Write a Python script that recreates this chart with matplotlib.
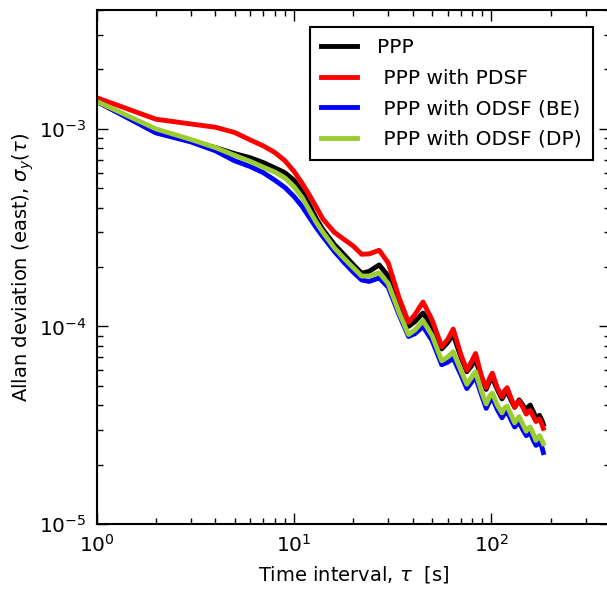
import matplotlib
matplotlib.use("Agg")
import matplotlib.pyplot as plt
from matplotlib.ticker import FuncFormatter, LogLocator
import numpy as np

plt.rcParams["font.family"] = "DejaVu Sans"
plt.rcParams["mathtext.fontset"] = "dejavusans"

# averaging times (s)
tau = [1, 2, 3, 4, 5, 6, 7, 8, 9, 10, 11, 12, 13, 14, 16, 18, 20, 22, 24, 27,
       30, 34, 38, 41, 45, 50, 56, 60, 64, 70, 75, 79, 83, 89, 94, 98, 101,
       107, 113, 116, 120, 126, 131, 135, 138, 144, 150, 153, 157, 163, 168,
       172, 175, 180, 183]

# Allan deviation, east component
ppp = [1.38e-3, 9.6e-4, 8.7e-4, 8.05e-4, 7.5e-4, 7.15e-4, 6.75e-4, 6.35e-4, 6.0e-4,
       5.5e-4, 4.8e-4, 4.1e-4, 3.5e-4, 3.1e-4, 2.6e-4, 2.3e-4, 2.05e-4, 1.86e-4,
       1.9e-4, 2.05e-4, 1.8e-4, 1.3e-4, 1.0e-4, 1.06e-4, 1.17e-4, 1.0e-4, 7.7e-5,
       8.3e-5, 9.1e-5, 7.0e-5, 5.9e-5, 6.3e-5, 6.8e-5, 5.5e-5, 4.8e-5, 5.3e-5,
       5.5e-5, 4.8e-5, 4.3e-5, 4.5e-5, 4.7e-5, 4.2e-5, 3.9e-5, 4.1e-5, 4.25e-5,
       4.0e-5, 3.75e-5, 3.9e-5, 4.0e-5, 3.7e-5, 3.45e-5, 3.5e-5, 3.55e-5, 3.35e-5,
       3.2e-5]
pdsf = [1.44e-3, 1.12e-3, 1.06e-3, 1.02e-3, 9.6e-4, 8.8e-4, 8.2e-4, 7.6e-4, 6.9e-4,
        6.1e-4, 5.3e-4, 4.6e-4, 4.0e-4, 3.5e-4, 3.0e-4, 2.75e-4, 2.55e-4, 2.32e-4,
        2.33e-4, 2.43e-4, 2.1e-4, 1.4e-4, 1.05e-4, 1.15e-4, 1.33e-4, 1.08e-4, 7.9e-5,
        8.6e-5, 9.7e-5, 7.2e-5, 6.0e-5, 6.6e-5, 7.3e-5, 5.6e-5, 4.9e-5, 5.5e-5,
        5.8e-5, 4.9e-5, 4.4e-5, 4.7e-5, 4.9e-5, 4.3e-5, 3.9e-5, 4.1e-5, 4.2e-5,
        3.9e-5, 3.6e-5, 3.7e-5, 3.75e-5, 3.5e-5, 3.3e-5, 3.35e-5, 3.4e-5, 3.2e-5,
        3.05e-5]
odsf_be = [1.38e-3, 9.55e-4, 8.6e-4, 7.75e-4, 6.9e-4, 6.45e-4, 6.0e-4, 5.5e-4, 5.05e-4,
           4.55e-4, 4.05e-4, 3.55e-4, 3.15e-4, 2.85e-4, 2.4e-4, 2.1e-4, 1.88e-4, 1.72e-4,
           1.69e-4, 1.76e-4, 1.58e-4, 1.15e-4, 8.9e-5, 9.2e-5, 1.0e-4, 8.5e-5, 6.4e-5,
           6.6e-5, 6.9e-5, 5.7e-5, 4.85e-5, 5.2e-5, 5.55e-5, 4.5e-5, 3.85e-5, 4.2e-5,
           4.35e-5, 3.8e-5, 3.45e-5, 3.6e-5, 3.7e-5, 3.35e-5, 3.1e-5, 3.2e-5, 3.3e-5,
           3.0e-5, 2.8e-5, 2.85e-5, 2.9e-5, 2.65e-5, 2.5e-5, 2.55e-5, 2.6e-5, 2.45e-5,
           2.3e-5]
odsf_dp = [1.38e-3, 1.0e-3, 8.85e-4, 8.05e-4, 7.35e-4, 6.85e-4, 6.4e-4, 6.05e-4, 5.65e-4,
           5.1e-4, 4.5e-4, 3.85e-4, 3.35e-4, 3.0e-4, 2.5e-4, 2.2e-4, 1.98e-4, 1.8e-4,
           1.8e-4, 1.87e-4, 1.65e-4, 1.18e-4, 9.1e-5, 9.6e-5, 1.07e-4, 9.0e-5, 6.7e-5,
           7.0e-5, 7.45e-5, 6.0e-5, 5.1e-5, 5.5e-5, 5.9e-5, 4.7e-5, 4.05e-5, 4.45e-5,
           4.6e-5, 4.0e-5, 3.65e-5, 3.85e-5, 3.95e-5, 3.55e-5, 3.25e-5, 3.4e-5, 3.5e-5,
           3.2e-5, 2.95e-5, 3.05e-5, 3.1e-5, 2.85e-5, 2.65e-5, 2.75e-5, 2.8e-5, 2.65e-5,
           2.55e-5]

fig = plt.figure(figsize=(6.07, 5.96), dpi=100)
# axes run slightly past the right edge of the figure, as in the original crop
ax = fig.add_axes([0.159, 0.1208, 0.8466, 0.8624])

ax.plot(tau, ppp, color="black", lw=3.5, label="PPP")
ax.plot(tau, pdsf, color="red", lw=3.5, label=" PPP with PDSF")
ax.plot(tau, odsf_be, color="blue", lw=3.5, label=" PPP with ODSF (BE)")
ax.plot(tau, odsf_dp, color="yellowgreen", lw=3.5, label=" PPP with ODSF (DP)")

ax.set_xscale("log")
ax.set_yscale("log")
ax.set_xlim(1, 400)
ax.set_ylim(1e-5, 4e-3)

fmt = FuncFormatter(lambda v, pos: r"$\mathregular{10^{%d}}$" % round(np.log10(v)))
ax.xaxis.set_major_formatter(fmt)
ax.yaxis.set_major_formatter(fmt)
ax.yaxis.set_major_locator(LogLocator(base=10, numticks=10))

ax.tick_params(which="both", direction="in", top=True, right=True, labelsize=14.5, width=1)
ax.tick_params(which="major", length=8, pad=7)
ax.tick_params(which="minor", length=4)
for s in ax.spines.values():
    s.set_linewidth(1.5)

ax.set_xlabel(r"Time interval, $\tau$  [s]", fontsize=14, labelpad=6)
ax.set_ylabel(r"Allan deviation (east), $\sigma_y(\tau)$", fontsize=14, labelpad=2)

leg = ax.legend(loc="upper right", bbox_to_anchor=(0.977, 0.955),
                bbox_transform=fig.transFigure, borderaxespad=0,
                fontsize=14.5, fancybox=False, framealpha=1, edgecolor="black",
                handlelength=1.8, handletextpad=1.0, labelspacing=0.58,
                borderpad=0.55)
leg.get_frame().set_linewidth(1.5)

fig.savefig("out.png", dpi=100, facecolor="white")
